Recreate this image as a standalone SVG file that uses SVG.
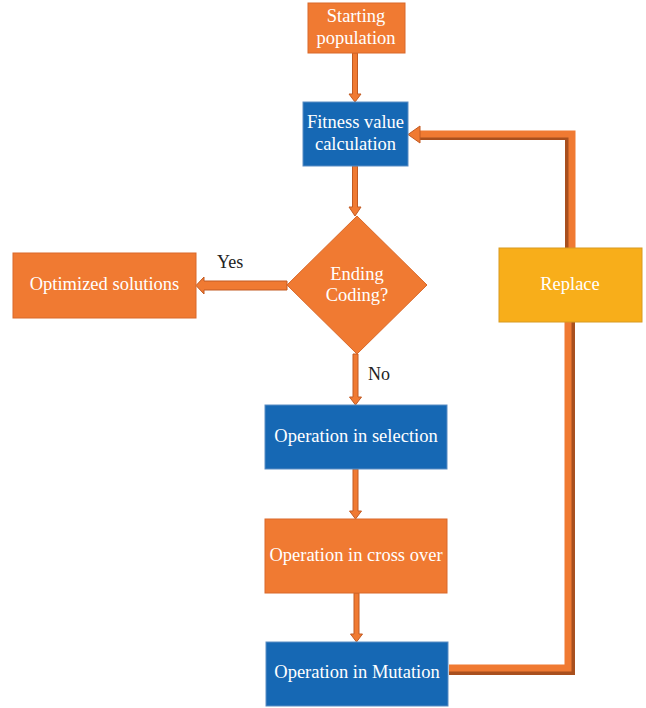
<svg xmlns="http://www.w3.org/2000/svg" width="646" height="708" viewBox="0 0 646 708">
<style>
.o{fill:#F07A32;stroke:#D9692A;stroke-width:1}
.b{fill:#1668B4;stroke:#5B8DC4;stroke-width:1}
.y{fill:#F8AE1A;stroke:#D89A20;stroke-width:1}
.t{font-family:"Liberation Serif",serif;font-size:18.5px;fill:#fff;text-anchor:middle}
.k{font-family:"Liberation Serif",serif;font-size:18px;fill:#222}
.arr{fill:#F07A32;stroke:#C25A22;stroke-width:1}
.sh{fill:none;stroke:#A9501E;stroke-width:8}
.fg{fill:none;stroke:#F07A32;stroke-width:7}
</style>
<rect width="646" height="708" fill="#fff"/>
<g id="connectors">
<polygon class="arr" points="352.5,53 357.5,53 357.5,94 361,94 355,102 349,94 352.5,94"/>
<polygon class="arr" points="352.5,166 357.5,166 357.5,207 361,207 355,216 349,207 352.5,207"/>
<polygon class="arr" points="353,354 358,354 358,397 361.5,397 355.5,405 349.5,397 353,397"/>
<polygon class="arr" points="353,469 358,469 358,511 361.5,511 355.5,519 349.5,511 353,511"/>
<polygon class="arr" points="354,593 359,593 359,634 362.5,634 356.5,642 350.5,634 354,634"/>
<polygon class="arr" points="287,281 287,290 204,290 204,294 196,285.5 204,277 204,281"/>
<path class="sh" d="M449,671 H571 V322"/>
<path class="fg" d="M449,668 H568 V322"/>
<path class="sh" d="M569,248 V136 H420"/>
<path class="fg" d="M572,248 V134 H420"/>
<polygon class="arr" points="420,130 420,126 408,134.5 420,143 420,139"/>
<text class="k" x="217" y="268">Yes</text>
<text class="k" x="368" y="380">No</text>
</g>
<g id="start">
<rect class="o" x="308" y="3" width="97" height="50"/>
<text class="t" x="356" y="22">Starting</text>
<text class="t" x="356" y="44">population</text>
</g>
<g id="fitness">
<rect class="b" x="303" y="102" width="105" height="64"/>
<text class="t" x="355.5" y="128">Fitness value</text>
<text class="t" x="355.5" y="150">calculation</text>
</g>
<g id="decision">
<polygon class="o" points="357,216 427,285 357,354 287,285"/>
<text class="t" x="357" y="280">Ending</text>
<text class="t" x="357" y="301">Coding?</text>
</g>
<g id="optimized">
<rect class="o" x="13" y="253" width="183" height="65"/>
<text class="t" x="104.5" y="290">Optimized solutions</text>
</g>
<g id="replace">
<rect class="y" x="499" y="248" width="143" height="74"/>
<text class="t" x="570" y="290">Replace</text>
</g>
<g id="selection">
<rect class="b" x="265" y="405" width="182" height="64"/>
<text class="t" x="356" y="442">Operation in selection</text>
</g>
<g id="crossover">
<rect class="o" x="265" y="519" width="182" height="74"/>
<text class="t" x="356" y="561">Operation in cross over</text>
</g>
<g id="mutation">
<rect class="b" x="266" y="642" width="182" height="64"/>
<text class="t" x="357" y="678">Operation in Mutation</text>
</g>
</svg>
